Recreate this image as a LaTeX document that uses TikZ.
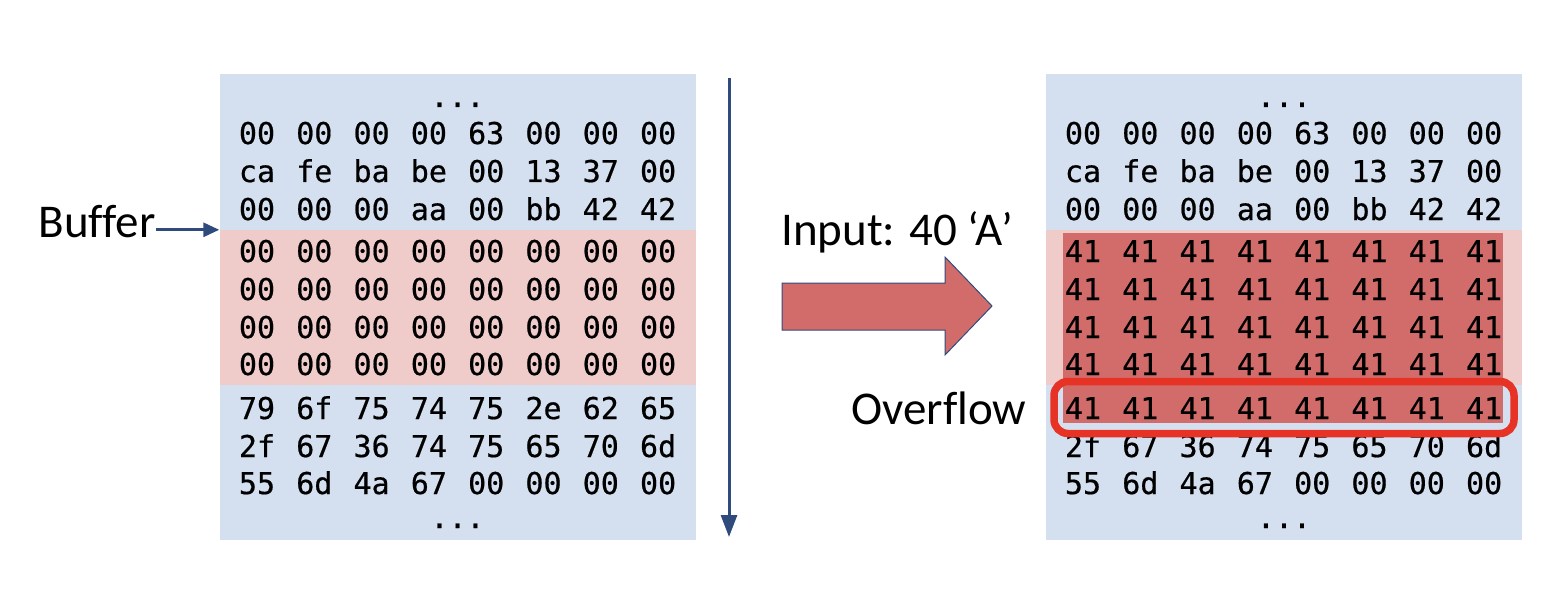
\documentclass[tikz,border=0pt]{standalone}
\usepackage{fontspec}
\setmainfont[Ligatures=NoCommon]{Carlito}
\newfontfamily\hexfamily[FakeBold=0.6]{DejaVu Sans Mono}
\usetikzlibrary{arrows.meta,positioning}
\definecolor{cmem}{HTML}{D4E0EF}
\definecolor{cbuf}{HTML}{EFCBCA}
\definecolor{cfill}{HTML}{D16C6A}
\definecolor{cover}{HTML}{E63326}
\definecolor{cptr}{HTML}{2F4B7C}
\tikzset{
  panel/.style={fill=cmem,inner sep=0pt,minimum width=476pt,minimum height=466pt},
  band/.style={fill=cbuf,inner sep=0pt,minimum width=476pt,minimum height=155pt},
  hex/.style={font=\hexfamily\fontsize{30}{30}\selectfont,inner sep=0pt,anchor=base},
  lbl/.style={font=\fontsize{47}{47}\selectfont,inner sep=0pt},
  >={Triangle[length=16pt,width=14pt]}
}

\begin{document}
\begin{tikzpicture}[x=1pt,y=-1pt]
    \useasboundingbox (0,0) rectangle (1560,604);
    % stack before
    \node[panel] (lpanel) at (457.5,307) {};
    \node[band] (lband) at (457.5,307.5) {};
    % stack after
    \node[panel] (rpanel) at (1284,307) {};
    \node[band] (rband) at (1284,307.5) {};
    \node[fill=cfill,inner sep=0pt,minimum width=440pt,minimum height=190pt] (afill) at (1283,328) {};
    % bytes
    \foreach \bytes [count=\r] in {{00,00,00,00,63,00,00,00},{ca,fe,ba,be,00,13,37,00},{00,00,00,aa,00,bb,42,42},
        {00,00,00,00,00,00,00,00},{00,00,00,00,00,00,00,00},{00,00,00,00,00,00,00,00},{00,00,00,00,00,00,00,00},
        {79,6f,75,74,75,2e,62,65},{2f,67,36,74,75,65,70,6d},{55,6d,4a,67,00,00,00,00}}{
      \pgfmathsetmacro\yb{{144,182,220,262,300,338,375,419,457,494}[\r-1]}
      \foreach \b [count=\c] in \bytes
        \node[hex] (l-\r-\c) at ({257+57.3*(\c-1)},\yb) {\b};
    }
    \foreach \bytes [count=\r] in {{00,00,00,00,63,00,00,00},{ca,fe,ba,be,00,13,37,00},{00,00,00,aa,00,bb,42,42},
        {41,41,41,41,41,41,41,41},{41,41,41,41,41,41,41,41},{41,41,41,41,41,41,41,41},{41,41,41,41,41,41,41,41},
        {41,41,41,41,41,41,41,41},{2f,67,36,74,75,65,70,6d},{55,6d,4a,67,00,00,00,00}}{
      \pgfmathsetmacro\yb{{144,182,220,262,300,338,375,419,457,494}[\r-1]}
      \foreach \b [count=\c] in \bytes
        \node[hex] (r-\r-\c) at ({1083+57.3*(\c-1)},\yb) {\b};
    }
    \node[hex] (ldots1) at (457.5,107) {...};
    \node[hex] (ldots2) at (457.5,528) {...};
    \node[hex] (rdots1) at (1284,107) {...};
    \node[hex] (rdots2) at (1284,528) {...};
    \node[draw=cover,line width=7.5pt,rounded corners=14pt,inner sep=0pt,minimum width=460pt,minimum height=52pt] (ovbox) at (1284,407.5) {};
    % labels
    \node[lbl] (buf) at (97,222) {Buffer};
    \draw[->,cptr,line width=3pt] (buf.east |- lband.north west) -- (lband.north west);
    \node[lbl] (input) at (897,232) {Input: 40 ‘A’};
    \node[lbl] (ovf) at (939,408) {Overflow};
    \coordinate (grow-top) at (729,78);
    \coordinate (grow-bot) at (729,537);
    \draw[->,cptr,line width=3pt,>={Triangle[length=22pt,width=16pt]}] (grow-top) -- (grow-bot);
    \draw[fill=cfill,draw=cptr,line width=1pt] (782,283) -- (945,283) -- (945,257) -- (992,306)
      -- (945,355) -- (945,330) -- (782,330) -- cycle;
  \end{tikzpicture}
\end{document}
